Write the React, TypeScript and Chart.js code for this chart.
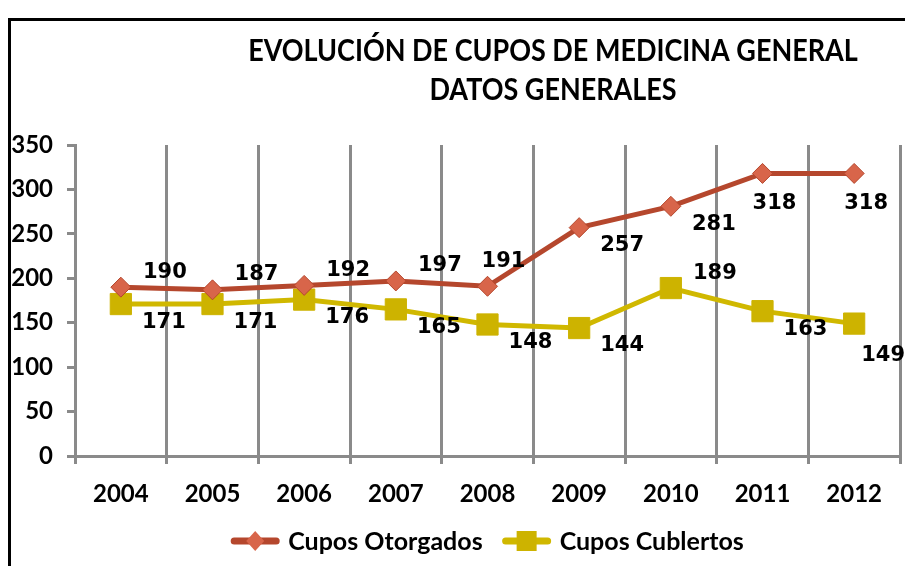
import { useEffect, useRef } from 'react';
import { Chart, registerables } from 'chart.js';

Chart.register(...registerables);

// ---- data ----
const years = ['2004', '2005', '2006', '2007', '2008', '2009', '2010', '2011', '2012'];
const cuposOtorgados = [190, 187, 192, 197, 191, 257, 281, 318, 318];
const cuposCubiertos = [171, 171, 176, 165, 148, 144, 189, 163, 149];
const seriesNames = ['Cupos Otorgados', 'Cupos Cublertos'];
const titleLines = ['EVOLUCIÓN DE CUPOS DE MEDICINA GENERAL', 'DATOS GENERALES'];
const yMin = 0;
const yMax = 350;
const yStep = 50;

// label placement (style) per point
const otorgadosLabelPos = ['ne', 'ne', 'ne', 'ne', 'n', 'se', 'se', 's', 's'];
const cubiertosLabelPos = ['se', 'se', 'se', 'se', 'se', 'se', 'ne', 'se', 'sse'];

// ---- styles ----
const RED_LINE = '#B5472D';
const RED_MARK = '#D8654A';
const YEL_LINE = '#D0B800';
const YEL_MARK = '#CDB300';
const GRID = '#8a8a8a';
const TICK_FONT = { family: 'Lato', weight: 'bold' as const, size: 24 };
const LABEL_FONT = 'bold 21px "DejaVu Sans"';

const OFFSETS: Record<string, [number, number]> = {
  ne: [44, -15],
  n: [16, -25],
  se: [43, 18],
  s: [12, 30],
  sse: [29, 32],
};

const framePlugin = {
  id: 'frame',
  beforeDraw(chart: any) {
    const { ctx, width, height } = chart;
    ctx.save();
    ctx.fillStyle = '#ffffff';
    ctx.fillRect(0, 0, width, height);
    ctx.strokeStyle = '#000';
    ctx.lineWidth = 3;
    ctx.beginPath();
    ctx.moveTo(width + 5, 19.5);
    ctx.lineTo(9.5, 19.5);
    ctx.lineTo(9.5, height + 5);
    ctx.stroke();
    ctx.restore();
  },
};

const titlePlugin = {
  id: 'customTitle',
  afterDraw(chart: any) {
    const { ctx } = chart;
    ctx.save();
    ctx.fillStyle = '#000';
    ctx.textAlign = 'center';
    ctx.textBaseline = 'middle';
    ctx.font = 'bold 31px Lato';
    const cx = 553;
    const ys = [51, 90];
    const sx = 0.87;
    titleLines.forEach((t, i) => {
      ctx.save();
      ctx.translate(cx, ys[i]);
      ctx.scale(sx, 1);
      ctx.fillText(t, 0, 0);
      ctx.restore();
    });
    ctx.restore();
  },
};

const dataLabelPlugin = {
  id: 'dataLabels',
  afterDatasetsDraw(chart: any) {
    const { ctx } = chart;
    const posArrays = [otorgadosLabelPos, cubiertosLabelPos];
    ctx.save();
    ctx.font = LABEL_FONT;
    ctx.fillStyle = '#000';
    ctx.textAlign = 'center';
    ctx.textBaseline = 'middle';
    chart.data.datasets.forEach((ds: any, di: number) => {
      const meta = chart.getDatasetMeta(di);
      meta.data.forEach((pt: any, i: number) => {
        const [dx, dy] = OFFSETS[posArrays[di][i]];
        ctx.fillText(String(ds.data[i]), pt.x + dx, pt.y + dy);
      });
    });
    ctx.restore();
  },
};

const legendPlugin = {
  id: 'customLegend',
  afterDraw(chart: any) {
    const { ctx, chartArea } = chart;
    const y = 541;
    const lineW = 48;
    const gapText = 9;
    const gapItems = 20;
    ctx.save();
    ctx.font = 'bold 25px Lato';
    ctx.textBaseline = 'middle';
    const items = chart.data.datasets.map((ds: any) => ({
      ds,
      w: lineW + gapText + ctx.measureText(ds.label).width,
    }));
    const total = items.reduce((a: number, it: any) => a + it.w, 0) + gapItems * (items.length - 1);
    let x = (chartArea.left + chartArea.right) / 2 - total / 2;
    items.forEach((it: any, i: number) => {
      const ds = it.ds;
      ctx.strokeStyle = ds.borderColor;
      ctx.lineWidth = 7;
      ctx.lineCap = 'round';
      ctx.beginPath();
      ctx.moveTo(x + 3, y);
      ctx.lineTo(x + lineW - 3, y);
      ctx.stroke();
      const mx = x + lineW / 2;
      ctx.fillStyle = ds.pointBackgroundColor;
      ctx.beginPath();
      if (i === 0) {
        ctx.moveTo(mx, y - 10);
        ctx.lineTo(mx + 9, y);
        ctx.lineTo(mx, y + 10);
        ctx.lineTo(mx - 9, y);
        ctx.closePath();
      } else {
        ctx.rect(mx - 10, y - 10, 20, 20);
      }
      ctx.fill();
      ctx.fillStyle = '#000';
      ctx.textAlign = 'left';
      ctx.fillText(ds.label, x + lineW + gapText, y + 1);
      x += it.w + gapItems;
    });
    ctx.restore();
  },
};

export default function App() {
  const ref = useRef<HTMLCanvasElement | null>(null);

  useEffect(() => {
    if (!ref.current) return;
    const chart = new Chart(ref.current, {
      type: 'line',
      data: {
        labels: years,
        datasets: [
          {
            label: seriesNames[0],
            data: cuposOtorgados,
            borderColor: RED_LINE,
            borderWidth: 5,
            pointStyle: 'rectRot',
            pointRadius: 10,
            pointBackgroundColor: RED_MARK,
            pointBorderColor: '#B5472D',
            pointBorderWidth: 1,
            tension: 0,
          },
          {
            label: seriesNames[1],
            data: cuposCubiertos,
            borderColor: YEL_LINE,
            borderWidth: 5,
            pointStyle: 'rect',
            pointRadius: 15,
            pointBackgroundColor: YEL_MARK,
            pointBorderColor: YEL_MARK,
            pointBorderWidth: 1,
            tension: 0,
          },
        ],
      },
      options: {
        animation: false,
        responsive: false,
        layout: { autoPadding: false, padding: { top: 145, right: 5, left: 0, bottom: 0 } },
        plugins: {
          legend: { display: false },
          title: { display: false },
          tooltip: { enabled: false },
        },
        scales: {
          x: {
            offset: true,
            grid: {
              display: true,
              offset: true,
              color: GRID,
              lineWidth: 3,
              tickLength: 8,
              drawOnChartArea: true,
            },
            border: { display: true, color: GRID, width: 3 },
            ticks: { font: TICK_FONT, color: '#000', padding: 16, maxRotation: 0 },
            afterFit: (s: any) => {
              s.height = 110;
              s.paddingLeft = 0;
              s.paddingRight = 0;
            },
          },
          y: {
            min: yMin,
            max: yMax,
            grid: { display: true, drawOnChartArea: false, color: GRID, lineWidth: 3, tickLength: 8 },
            border: { display: true, color: GRID, width: 3 },
            ticks: { stepSize: yStep, font: TICK_FONT, color: '#000', padding: 14 },
            afterFit: (s: any) => {
              s.width = 75;
              s.paddingTop = 0;
              s.paddingBottom = 0;
            },
          },
        },
      },
      plugins: [framePlugin, dataLabelPlugin, titlePlugin, legendPlugin],
    });
    return () => chart.destroy();
  }, []);

  return (
    <div style={{ position: 'absolute', left: 0, top: 0, width: 905, height: 566 }}>
      <canvas ref={ref} width={905} height={566} />
    </div>
  );
}
